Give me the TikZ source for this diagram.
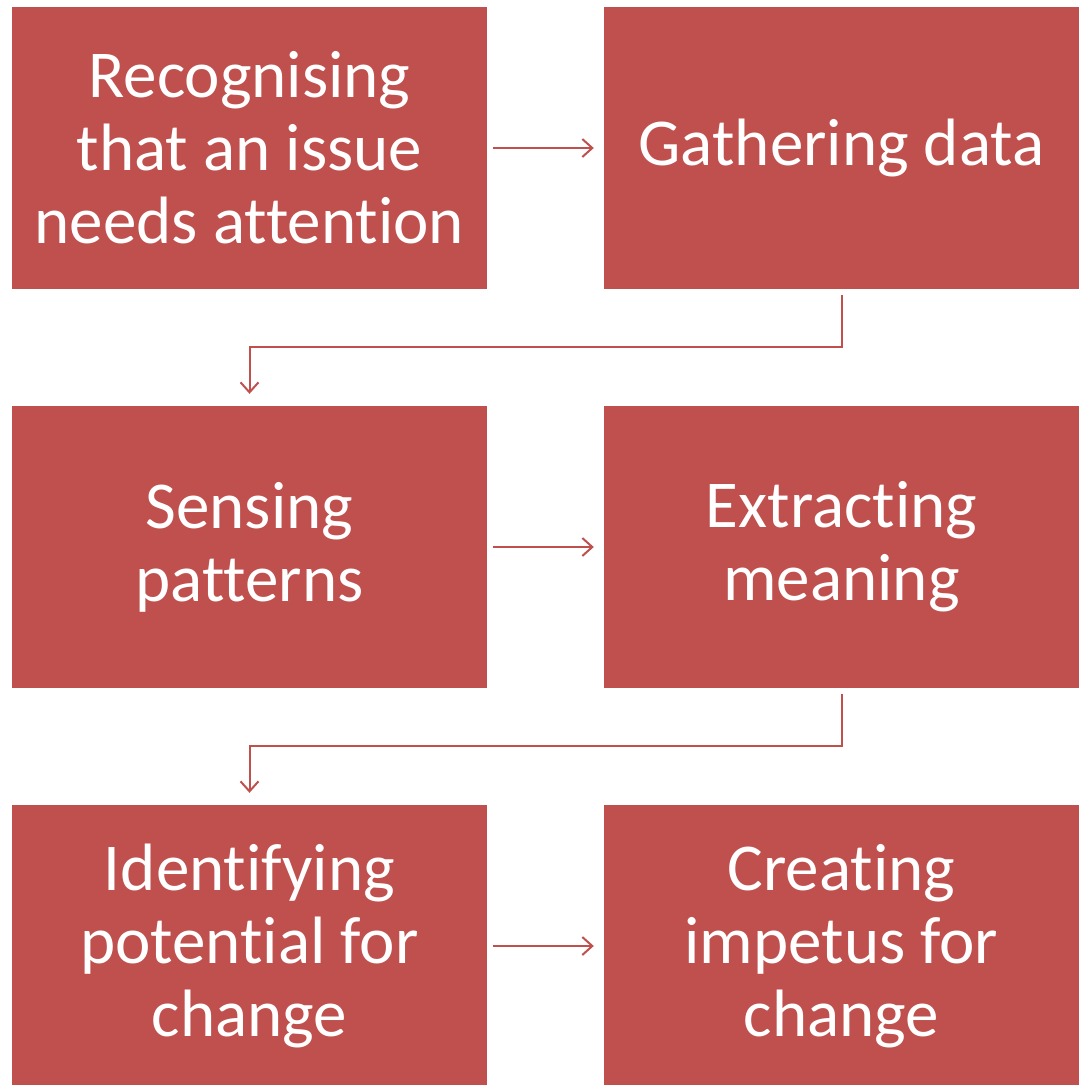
\documentclass[tikz,border=0pt]{standalone}
\usepackage{fontspec}
\setmainfont[Ligatures={NoCommon}]{Carlito}
\usetikzlibrary{arrows.meta}
\definecolor{boxred}{HTML}{C0504D}
\begin{document}
\begin{tikzpicture}[x=1pt,y=-1pt,
  stepbox/.style={fill=boxred, draw=none, minimum width=475pt, minimum height=282pt,
    inner sep=0pt, text=white, align=center,
    font=\fontsize{67}{73}\selectfont},
  link/.style={draw=boxred, line width=2pt, -{Straight Barb[length=10pt,width=18pt,line width=2pt]}}]
\useasboundingbox (0,0) rectangle (1082,1085);
\node[stepbox] (b1) at (249.5,148) {Recognising\\that an issue\\needs attention};
\node[stepbox] (b2) at (841.5,148) {Gathering data};
\node[stepbox] (b3) at (249.5,547) {Sensing\\patterns};
\node[stepbox] (b4) at (841.5,547) {Extracting\\meaning};
\node[stepbox] (b5) at (249.5,946) {Identifying\\potential for\\change};
\node[stepbox] (b6) at (841.5,946) {Creating\\impetus for\\change};
\draw[link] ([xshift=6pt]b1.east) -- ([xshift=-10pt]b2.west);
\draw[link] ([xshift=6pt]b3.east) -- ([xshift=-10pt]b4.west);
\draw[link] ([xshift=6pt]b5.east) -- ([xshift=-10pt]b6.west);
\draw[link] ([yshift=-6pt]b2.south) -- ++(0,52) -| ([yshift=12pt]b3.north);
\draw[link] ([yshift=-6pt]b4.south) -- ++(0,52) -| ([yshift=12pt]b5.north);
\end{tikzpicture}
\end{document}
